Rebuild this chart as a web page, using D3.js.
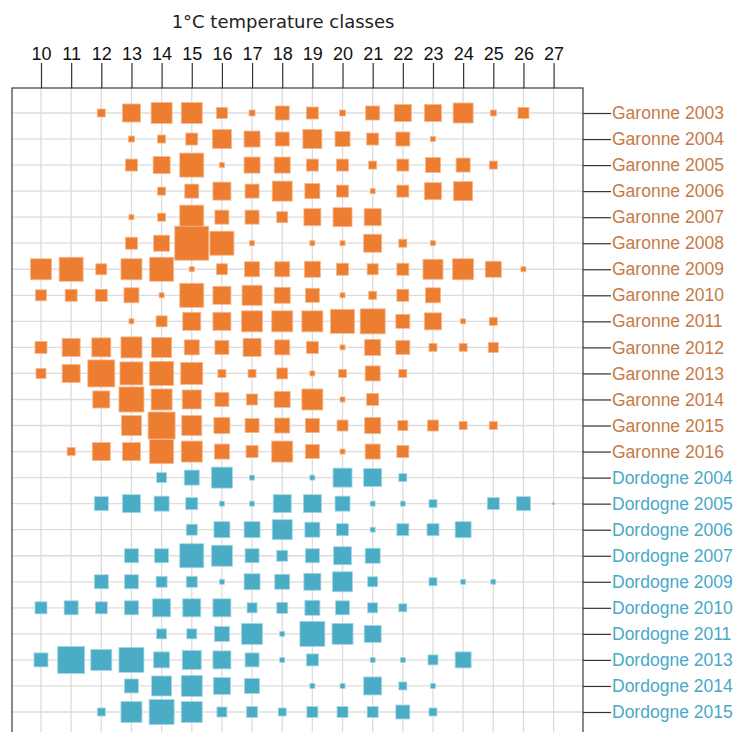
<!DOCTYPE html>
<html><head><meta charset="utf-8">
<script src="https://cdn.jsdelivr.net/npm/d3@7"></script>
<style>body{margin:0;background:#fff}svg{display:block}</style>
</head><body>
<script>
const temps = [10,11,12,13,14,15,16,17,18,19,20,21,22,23,24,25,26,27];
const rows = ["Garonne 2003","Garonne 2004","Garonne 2005","Garonne 2006","Garonne 2007","Garonne 2008","Garonne 2009","Garonne 2010","Garonne 2011","Garonne 2012","Garonne 2013","Garonne 2014","Garonne 2015","Garonne 2016","Dordogne 2004","Dordogne 2005","Dordogne 2006","Dordogne 2007","Dordogne 2009","Dordogne 2010","Dordogne 2011","Dordogne 2013","Dordogne 2014","Dordogne 2015"];
const g2003 = [0,0,6.4,32.4,44.1,44.1,12.1,3.6,19.6,14.4,3.6,19.6,28.9,28.9,40,3.6,12.1,0];
const g2004 = [0,0,0,3.6,6.4,14.4,36.1,25.6,19.6,36.1,22.5,14.4,19.6,2.5,0,0,0,0];
const g2005 = [0,0,0,14.4,28.9,57.6,2.5,25.6,25.6,14.4,14.4,6.4,14.4,22.5,19.6,6.4,0,0];
const g2006 = [0,0,0,0,6.4,19.6,32.4,19.6,40,22.5,14.4,2.5,14.4,28.9,36.1,0,0,0];
const g2007 = [0,0,0,2.5,6.4,57.6,19.6,19.6,12.1,28.9,36.1,28.9,0,0,0,0,0,0];
const g2008 = [0,0,0,14.4,25.6,115.6,57.6,2.5,0,2.5,2.5,32.4,6.4,2.5,0,0,0,0];
const g2009 = [44.1,57.6,12.1,44.1,57.6,2.5,12.1,22.5,22.5,25.6,14.4,12.1,14.4,40,44.1,25.6,2.5,0];
const g2010 = [12.1,14.4,14.4,22.5,2.5,57.6,32.4,40,25.6,19.6,2.5,6.4,14.4,22.5,0,0,0,0];
const g2011 = [0,0,0,2.5,12.1,32.4,32.4,44.1,44.1,44.1,57.6,62.5,19.6,28.9,2.5,6.4,0,0];
const g2012 = [14.4,32.4,36.1,44.1,40,22.5,19.6,32.4,22.5,14.4,2.5,25.6,19.6,6.4,6.4,10,0,0];
const g2013 = [10,32.4,72.9,52.9,57.6,48.4,6.4,6.4,12.1,2.5,6.4,22.5,6.4,0,0,0,0,0];
const g2014 = [0,0,28.9,62.5,44.1,36.1,19.6,12.1,25.6,44.1,2.5,14.4,0,0,0,0,0,0];
const g2015 = [0,0,0,40,72.9,40,25.6,19.6,22.5,19.6,12.1,25.6,10,12.1,6.4,6.4,0,0];
const g2016 = [0,6.4,32.4,32.4,57.6,44.1,22.5,14.4,44.1,19.6,2.5,22.5,14.4,0,0,0,0,0];
const d2004 = [0,0,0,0,10,22.5,44.1,2.5,0,2.5,36.1,32.4,6.4,0,0,0,0,0];
const d2005 = [0,0,19.6,32.4,22.5,14.4,2.5,2.5,32.4,32.4,22.5,2.5,2.5,6.4,0,14.4,19.6,0.4];
const d2006 = [0,0,0,0,0,12.1,25.6,25.6,40,22.5,14.4,2.5,14.4,14.4,25.6,0,0,0];
const d2007 = [0,0,0,19.6,19.6,57.6,44.1,19.6,12.1,19.6,32.4,22.5,0,0,0,0,0,0];
const d2009 = [0,0,19.6,19.6,12.1,12.1,2.5,25.6,22.5,28.9,40,10,0,6.4,2.5,2.5,0,0];
const d2010 = [14.4,19.6,14.4,19.6,32.4,32.4,32.4,10,12.1,22.5,19.6,10,6.4,0,0,0,0,0];
const d2011 = [0,0,0,0,10,10,22.5,44.1,2.5,62.5,44.1,28.9,0,0,0,0,0,0];
const d2013 = [19.6,72.9,44.1,62.5,25.6,36.1,32.4,19.6,2.5,14.4,0,2.5,2.5,10,25.6,0,0,0];
const d2014 = [0,0,0,19.6,40,44.1,28.9,22.5,0,2.5,2.5,32.4,6.4,2.5,0,0,0,0];
const d2015 = [0,0,6.4,44.1,62.5,44.1,10,12.1,6.4,12.1,12.1,12.1,19.6,6.4,0,0,0,0];
const values = [g2003,g2004,g2005,g2006,g2007,g2008,g2009,g2010,g2011,g2012,g2013,g2014,g2015,g2016,
                d2004,d2005,d2006,d2007,d2009,d2010,d2011,d2013,d2014,d2015];

const W = 740, H = 732;
const frame = {left: 12, right: 583, top: 88, bottom: 745};
const svg = d3.select("body").append("svg").attr("width", W).attr("height", H);

const x = d3.scaleLinear().domain([10, 27]).range([41, 553.6]);
const y = d3.scalePoint().domain(rows).range([113, 712]);
const size = d3.scaleSqrt().domain([0, 115.6]).range([0, 34]);
const isG = r => r.startsWith("Garonne");

// grid
svg.append("g").selectAll("line").data(temps).join("line")
  .attr("x1", d => x(d)).attr("x2", d => x(d))
  .attr("y1", frame.top).attr("y2", frame.bottom)
  .attr("stroke", "#dcdcdc").attr("stroke-width", 1.3);
svg.append("g").selectAll("line").data(rows).join("line")
  .attr("x1", frame.left).attr("x2", frame.right)
  .attr("y1", d => y(d)).attr("y2", d => y(d))
  .attr("stroke", "#dcdcdc").attr("stroke-width", 1.3);

// frame
svg.append("rect").attr("x", frame.left).attr("y", frame.top)
  .attr("width", frame.right - frame.left).attr("height", frame.bottom - frame.top)
  .attr("fill", "none").attr("stroke", "#4a4a4a").attr("stroke-width", 1.3);

// top axis
const topAxis = svg.append("g").attr("transform", `translate(0,${frame.top})`)
  .call(d3.axisTop(x).tickValues(temps).tickFormat(d3.format("d")).tickSize(25).tickPadding(3));
topAxis.select(".domain").remove();
topAxis.selectAll(".tick line").attr("stroke", "#333").attr("stroke-width", 1.2);
topAxis.selectAll(".tick text").attr("font-family", "'Liberation Sans Narrow', 'Arial Narrow', Arial, sans-serif")
  .attr("font-size", 18).attr("fill", "#111");

// right axis
const rightAxis = svg.append("g").attr("transform", `translate(${frame.right},0)`)
  .call(d3.axisRight(y).tickSize(28).tickPadding(1));
rightAxis.select(".domain").remove();
rightAxis.selectAll(".tick line").attr("stroke", "#333").attr("stroke-width", 1.2);
rightAxis.selectAll(".tick text").attr("font-family", "'Liberation Sans', Arial, sans-serif")
  .attr("font-size", 17.5).attr("fill", d => isG(d) ? "#c57a45" : "#48a9c9");

// title
svg.append("text").attr("x", 283).attr("y", 28).attr("text-anchor", "middle")
  .attr("font-family", "'DejaVu Sans', Verdana, sans-serif").attr("font-size", 18)
  .attr("fill", "#222").text("1°C temperature classes");

// squares
const cells = [];
rows.forEach((r, i) => temps.forEach((t, j) => {
  if (values[i][j] > 0) cells.push({row: r, t, v: values[i][j]});
}));
svg.append("g").selectAll("rect").data(cells).join("rect")
  .attr("x", d => x(d.t) - size(d.v) / 2)
  .attr("y", d => y(d.row) - size(d.v) / 2)
  .attr("width", d => size(d.v)).attr("height", d => size(d.v))
  .attr("fill", d => isG(d.row) ? "#ed7d31" : "#4bacc6")
  .attr("stroke", d => isG(d.row) ? "#f6b88c" : "#a6d8e6")
  .attr("stroke-width", 0.8);
</script>
</body></html>
